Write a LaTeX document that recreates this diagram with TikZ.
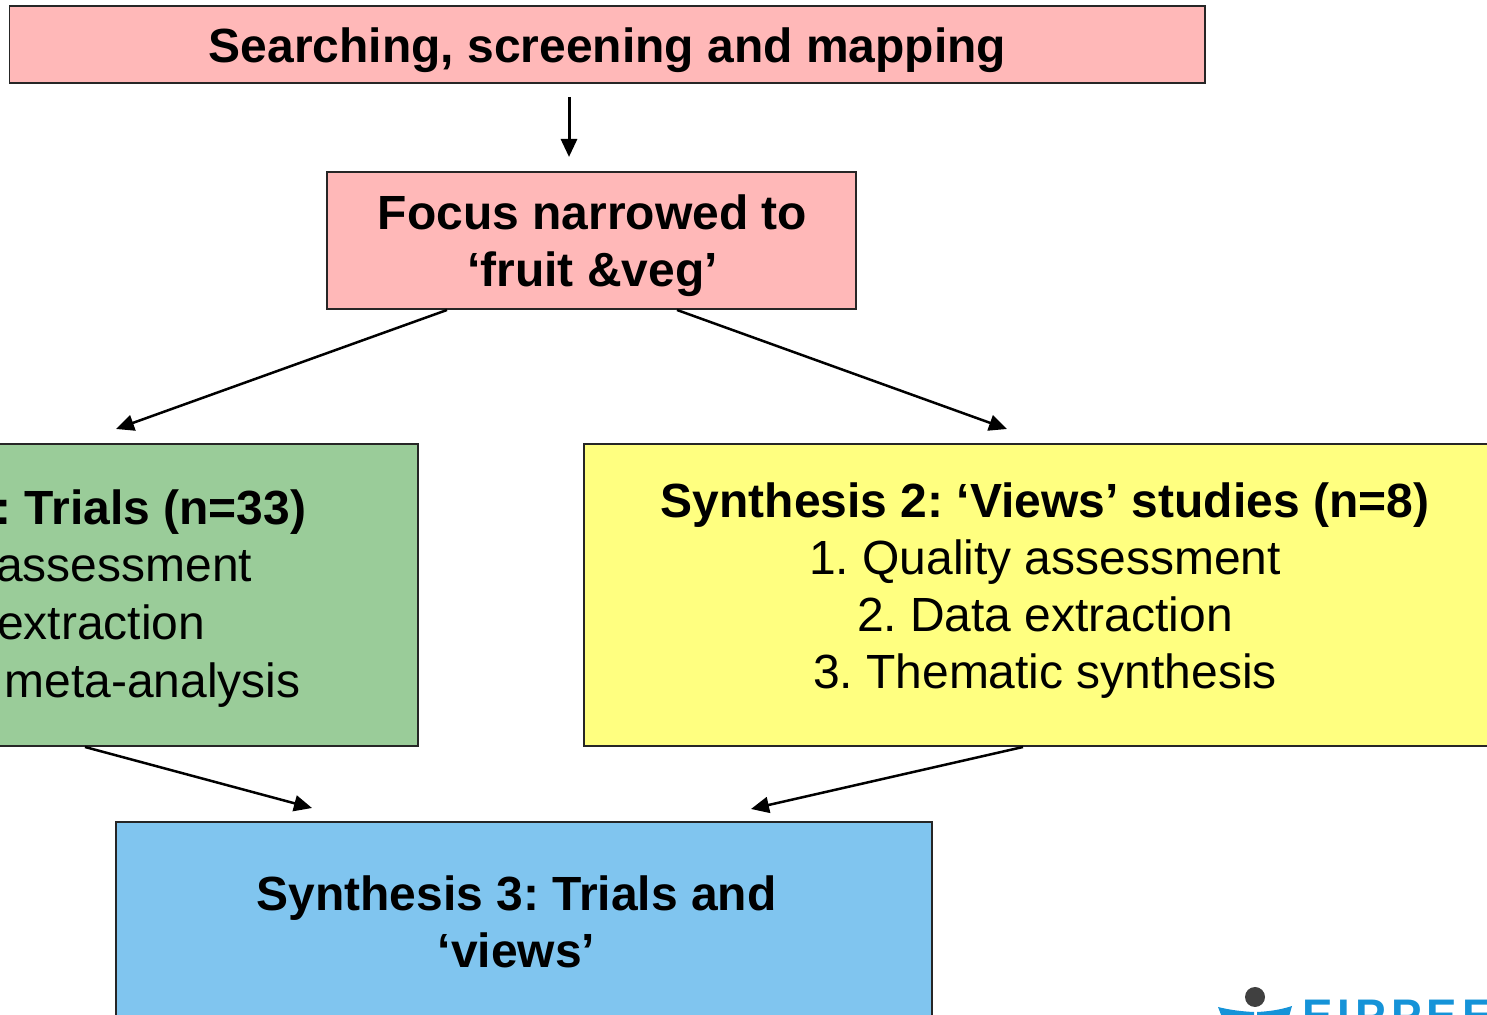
\documentclass[tikz,border=0pt]{standalone}
\usepackage{xcolor}
\usepackage{fontspec}
\setmainfont{Liberation Sans}
\usetikzlibrary{arrows.meta}
\definecolor{boxpink}{HTML}{FFB8B8}
\definecolor{boxgreen}{HTML}{9ACC99}
\definecolor{boxyellow}{HTML}{FFFF80}
\definecolor{boxblue}{HTML}{80C5EF}
\definecolor{logoblue}{HTML}{1593D8}
\newcommand{\boxfont}{\fontsize{27.3}{32.5}\selectfont\frenchspacing}
\tikzstyle {stage box} = [rectangle, draw=black!85, line width=0.04cm, inner sep=0pt]
\tikzstyle {stage text} = [align=center, inner sep=0pt, font=\boxfont]
\tikzset{edge/.style = {line width=0.05cm,-{Triangle[length=0.36cm,width=0.32cm]}}}

\begin{document}
\begin{tikzpicture}
            \useasboundingbox (0, 0) rectangle (29.74, 20.3);
            \begin{scope}
            \clip (0, 0) rectangle (29.74, 20.3);
            \node[stage box, fill=boxpink, minimum width=23.9cm, minimum height=1.54cm] (search) at (12.14, 19.41) {};
            \node[stage text] (searchtext) at (12.15, 19.3) {\textbf{Searching, screening and mapping}};
            \node[stage box, fill=boxpink, minimum width=10.58cm, minimum height=2.74cm] (focus) at (11.83, 15.49) {};
            \node[stage text] (focustext) at (11.85, 15.39) {\textbf{Focus narrowed to}\\\textbf{‘fruit \&veg’}};
            \node[stage box, fill=boxgreen, minimum width=9.5cm, minimum height=6.04cm] (trials) at (3.6, 8.4) {};
            \node[stage box, fill=boxyellow, minimum width=18.44cm, minimum height=6.04cm] (views) at (20.9, 8.4) {};
            \node[stage box, fill=boxblue, minimum width=16.33cm, minimum height=5cm] (both) at (10.48, 1.36) {};
            \node[stage text, anchor=base east] (trialstextone) at (6.13, 9.8) {\textbf{: Trials (n=33)}};
            \node[stage text, anchor=base east] (trialstexttwo) at (5.05, 8.67) {assessment};
            \node[stage text, anchor=base east] (trialstextthree) at (4.11, 7.5) {extraction};
            \node[stage text, anchor=base east] (trialstextfour) at (6.02, 6.35) {meta-analysis};
            \node[stage text] (viewstext) at (20.9, 8.49) {\textbf{Synthesis 2: ‘Views’ studies (n=8)}\\1. Quality assessment\\2. Data extraction\\3. Thematic synthesis};
            \node[stage text] (bothtext) at (10.33, 1.87) {\textbf{Synthesis 3: Trials and}\\\textbf{‘views’}};
            \fill[logoblue] (24.36, 0.16) .. controls (24.6, 0.1) and (24.85, 0.07) .. (25.08, 0.06) -- (25.08, -0.1) -- (24.46, -0.1) -- cycle;
            \fill[logoblue] (25.84, 0.18) .. controls (25.6, 0.1) and (25.35, 0.07) .. (25.14, 0.06) -- (25.14, -0.1) -- (25.76, -0.1) -- cycle;
            \fill[black!75] (25.1, 0.36) circle (0.2);
            \node[anchor=base west, inner sep=0pt, text=logoblue, font=\fontsize{26}{26}\selectfont\bfseries\addfontfeature{LetterSpace=11}] (logotext) at (26.04, -0.34) {EIPPEE};
            \end{scope}
            \coordinate (trialsin) at (2.32, 11.72);
            \coordinate (viewsin) at (20.14, 11.72);
            \coordinate (bothleft) at (6.24, 4.14);
            \coordinate (bothright) at (15.02, 4.12);
            \coordinate (arrowtop) at (11.38, 18.36);
            \coordinate (arrowend) at (11.38, 17.16);
            \draw[edge, line width=0.06cm] (arrowtop) -- (arrowend);
            \draw[edge] ([xshift=-2.89cm]focus.south) -- (trialsin);
            \draw[edge] ([xshift=1.71cm]focus.south) -- (viewsin);
            \draw[edge] ([xshift=-1.9cm]trials.south) -- (bothleft);
            \draw[edge] ([xshift=-0.44cm]views.south) -- (bothright);
        \end{tikzpicture}
\end{document}
